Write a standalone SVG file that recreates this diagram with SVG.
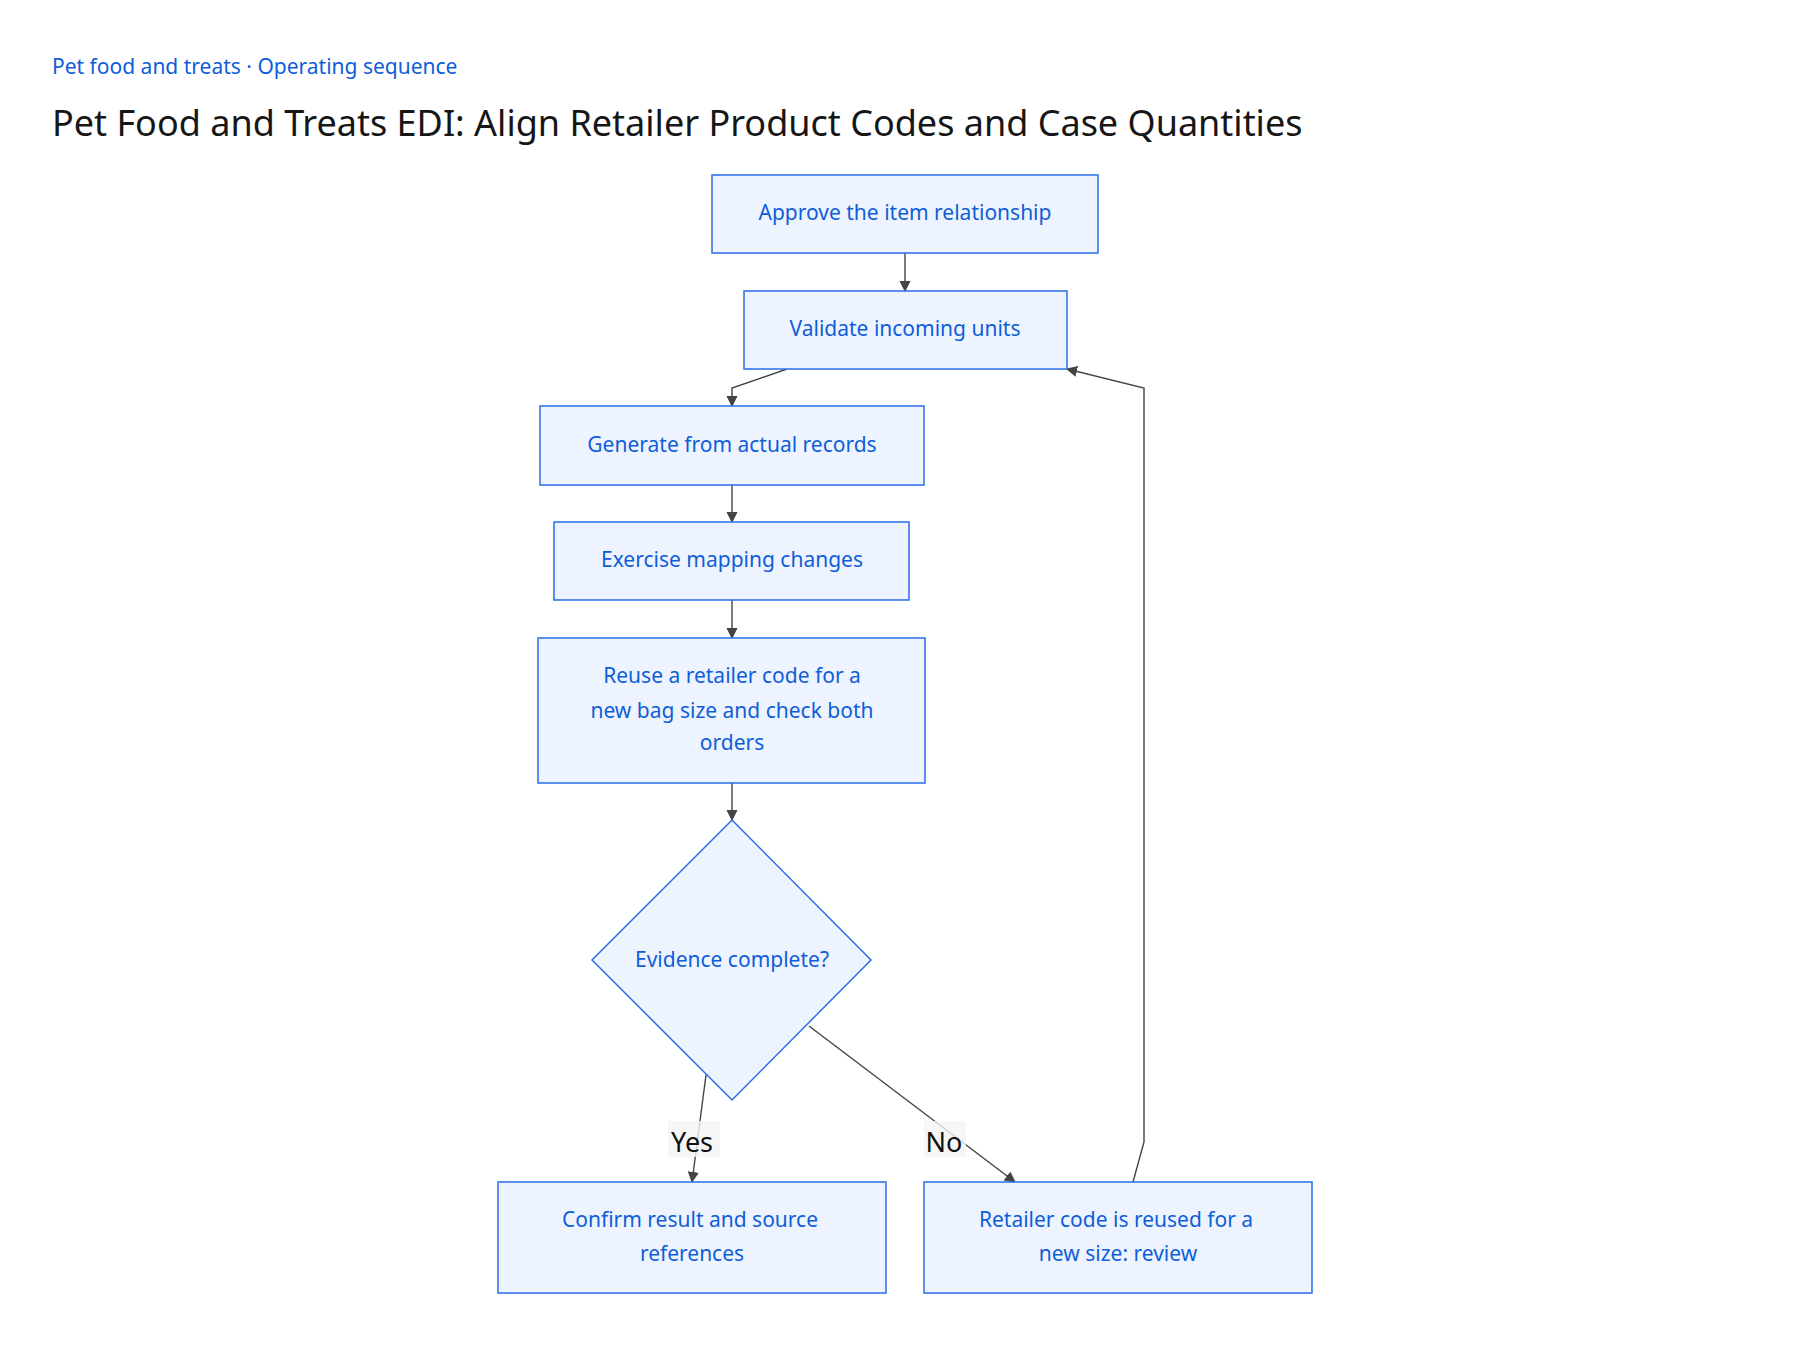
<svg xmlns="http://www.w3.org/2000/svg" width="1800" height="1350" viewBox="0 0 1800 1350">
<style>
text{font-family:"Noto Sans","Liberation Sans",sans-serif}
.n{fill:#edf4ff;stroke:#2a6ee8;stroke-width:1.5}
.t{fill:#0f5ed8;font-size:21px;text-anchor:middle}
.e{fill:none;stroke:#444;stroke-width:1.4;marker-end:url(#a)}
.l{font-size:27px;fill:#111;text-anchor:middle}
</style>
<defs><marker id="a" viewBox="0 0 10 10" refX="9" refY="5" markerWidth="8" markerHeight="8" orient="auto-start-reverse"><path d="M0,0L10,5L0,10z" fill="#444"/></marker></defs>
<rect width="1800" height="1350" fill="#fff"/>
<text x="52" y="74" font-size="21" fill="#0f5ed8">Pet food and treats · Operating sequence</text>
<text x="52" y="136" font-size="36" fill="#161616">Pet Food and Treats EDI: Align Retailer Product Codes and Case Quantities</text>
<g id="edges">
<path class="e" d="M905,253V291"/>
<path class="e" d="M787,369L732,388V406"/>
<path class="e" d="M732,485V522"/>
<path class="e" d="M732,600V638"/>
<path class="e" d="M732,783V820"/>
<path class="e" d="M706,1075L692,1182"/>
<path class="e" d="M809,1026L1015,1182"/>
<path class="e" d="M1133,1182L1144,1142V388L1067,369"/>
<rect x="668" y="1121" width="52" height="36" fill="#f4f4f4" opacity="0.8"/>
<text class="l" x="692" y="1152">Yes</text>
<rect x="924" y="1121" width="42" height="36" fill="#f4f4f4" opacity="0.8"/>
<text class="l" x="944" y="1152">No</text>
</g>
<g id="n1"><rect class="n" x="712" y="175" width="386" height="78"/><text class="t" x="905" y="220">Approve the item relationship</text></g>
<g id="n2"><rect class="n" x="744" y="291" width="323" height="78"/><text class="t" x="905" y="336">Validate incoming units</text></g>
<g id="n3"><rect class="n" x="540" y="406" width="384" height="79"/><text class="t" x="732" y="452">Generate from actual records</text></g>
<g id="n4"><rect class="n" x="554" y="522" width="355" height="78"/><text class="t" x="732" y="567">Exercise mapping changes</text></g>
<g id="n5"><rect class="n" x="538" y="638" width="387" height="145"/><text class="t" x="732" y="683">Reuse a retailer code for a</text><text class="t" x="732" y="718">new bag size and check both</text><text class="t" x="732" y="750">orders</text></g>
<g id="n6"><path class="n" d="M732,820L871,960L732,1100L592,960Z"/><text class="t" x="732" y="967">Evidence complete?</text></g>
<g id="n7"><rect class="n" x="498" y="1182" width="388" height="111"/><text class="t" x="690" y="1227">Confirm result and source</text><text class="t" x="692" y="1261">references</text></g>
<g id="n8"><rect class="n" x="924" y="1182" width="388" height="111"/><text class="t" x="1116" y="1227">Retailer code is reused for a</text><text class="t" x="1118" y="1261">new size: review</text></g>
</svg>
